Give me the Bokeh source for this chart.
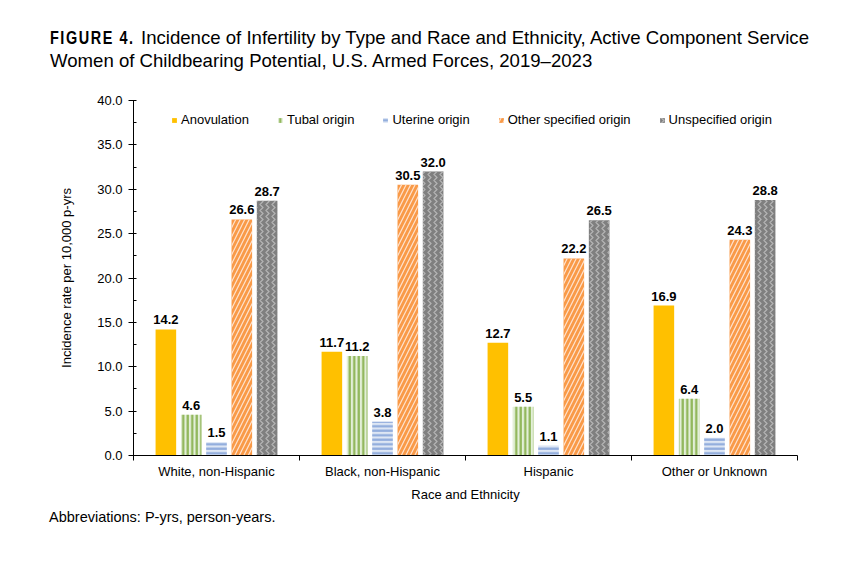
from bokeh.plotting import figure
from bokeh.layouts import column
from bokeh.models import (ColumnDataSource, FixedTicker, Legend, LegendItem, Div,
                          NumeralTickFormatter, Range1d, LabelSet)
from bokeh.embed import file_html
from bokeh.resources import INLINE
from bokeh.core.properties import value

categories = ["White, non-Hispanic", "Black, non-Hispanic", "Hispanic", "Other or Unknown"]
series_names = ["Anovulation", "Tubal origin", "Uterine origin", "Other specified origin", "Unspecified origin"]
anovulation = [14.2, 11.7, 12.7, 16.9]
tubal = [4.6, 11.2, 5.5, 6.4]
uterine = [1.5, 3.8, 1.1, 2.0]
other_specified = [26.6, 30.5, 22.2, 24.3]
unspecified = [28.7, 32.0, 26.5, 28.8]
series_values = [anovulation, tubal, uterine, other_specified, unspecified]
y_ticks = [0, 5, 10, 15, 20, 25, 30, 35, 40]

title_prefix = "FIGURE 4."
title_line1 = "Incidence of Infertility by Type and Race and Ethnicity, Active Component Service"
title_line2 = "Women of Childbearing Potential, U.S. Armed Forces, 2019\u20132023"
footnote = "Abbreviations: P-yrs, person-years."

SANS = "Liberation Sans"

styles = [
    dict(fill_color="#FFC000", hatch_pattern=None),
    dict(fill_color="#E3EFD8", hatch_pattern="|", hatch_color="#8DB455", hatch_scale=4.5, hatch_weight=2.2),
    dict(fill_color="#DDE6F4", hatch_pattern="-", hatch_color="#8EAADB", hatch_scale=4.5, hatch_weight=2.2),
    dict(fill_color="#F99A48", hatch_pattern="/", hatch_color="#FFE3CF", hatch_scale=9, hatch_weight=1.2),
    dict(fill_color="#7F7F7F", hatch_pattern=">", hatch_color="#B5B5B5", hatch_scale=6, hatch_weight=1.2),
]

title_html = (
    '<div style="position:relative;width:850px;height:90px;color:#000;">'
    '<span style="position:absolute;left:50px;top:29px;white-space:nowrap;'
    'font-family:\'Liberation Sans\',Arial;font-weight:bold;font-size:18.5px;line-height:18.5px;'
    'letter-spacing:2px;transform:scaleX(0.78);transform-origin:left top;">' + title_prefix + '</span>'
    '<span style="position:absolute;left:141px;top:29px;white-space:nowrap;'
    'font-family:\'Liberation Sans\',Arial;font-size:18.6px;line-height:18.6px;">' + title_line1 + '</span>'
    '<span style="position:absolute;left:50px;top:52px;white-space:nowrap;'
    'font-family:\'Liberation Sans\',Arial;font-size:18.6px;line-height:18.6px;">' + title_line2 + '</span>'
    '</div>'
)
title_div = Div(text=title_html, width=850, height=90, margin=(0, 0, 0, 0))

foot_html = (
    '<div style="position:relative;width:850px;height:30px;color:#000;">'
    '<span style="position:absolute;left:49px;top:0px;white-space:nowrap;'
    'font-family:\'Liberation Sans\',Arial;font-size:14.5px;line-height:14.5px;">' + footnote + '</span>'
    '</div>'
)
foot_div = Div(text=foot_html, width=850, height=30, margin=(0, 0, 0, 0))

p = figure(width=850, height=420, output_backend="svg", toolbar_location=None,
           x_range=Range1d(0, 4), y_range=Range1d(0, 40),
           min_border_left=133, min_border_right=53, min_border_top=10, min_border_bottom=55,
           margin=(0, 0, 0, 0))
p.outline_line_color = None
p.xgrid.visible = False
p.ygrid.visible = False

offset = 0.1525
bw = 0.124
items = []
for k, (name, vals) in enumerate(zip(series_names, series_values)):
    xs = [i + 0.5 + (k - 2) * offset for i in range(len(categories))]
    src = ColumnDataSource(dict(x=xs, top=vals, lab=[f"{v:.1f}" for v in vals]))
    st = styles[k]
    kw = dict(fill_color=st["fill_color"], line_color=None)
    if st["hatch_pattern"]:
        kw.update(hatch_pattern=st["hatch_pattern"], hatch_color=st["hatch_color"],
                  hatch_scale=st["hatch_scale"], hatch_weight=st["hatch_weight"])
    r = p.vbar(x="x", top="top", width=bw, source=src, **kw)
    items.append(LegendItem(label=name, renderers=[r]))
    ls = LabelSet(x="x", y="top", text="lab", source=src, text_align="center",
                  text_baseline="alphabetic", y_offset=5, text_font=value(SANS),
                  text_font_style="bold", text_font_size="13px", text_color="#000000")
    p.add_layout(ls)

legend = Legend(items=items, orientation="horizontal", location=(38, 328),
                glyph_width=6, glyph_height=6, label_standoff=4, spacing=28,
                padding=0, margin=0, border_line_color=None, background_fill_alpha=0,
                label_text_font=SANS, label_text_font_size="13px", label_height=13,
                label_text_color="#000000")
p.add_layout(legend, "center")

# y axis
p.yaxis.ticker = FixedTicker(ticks=y_ticks, minor_ticks=[2.5 + 5 * i for i in range(8)])
p.yaxis.formatter = NumeralTickFormatter(format="0.0")
p.yaxis.major_tick_in = 3
p.yaxis.major_tick_out = 5
p.yaxis.minor_tick_in = 3
p.yaxis.minor_tick_out = 0
p.yaxis.axis_line_color = "#000000"
p.yaxis.major_tick_line_color = "#000000"
p.yaxis.minor_tick_line_color = "#000000"
p.yaxis.major_label_text_font = SANS
p.yaxis.major_label_text_font_size = "13px"
p.yaxis.major_label_text_color = "#000000"
p.yaxis.major_label_standoff = 6
p.yaxis.axis_label = "Incidence rate per 10,000 p-yrs"
p.yaxis.axis_label_text_font = SANS
p.yaxis.axis_label_text_font_size = "13px"
p.yaxis.axis_label_text_font_style = "normal"
p.yaxis.axis_label_text_color = "#000000"
p.yaxis.axis_label_standoff = 20

# x axis
p.xaxis.ticker = FixedTicker(ticks=[i + 0.5 for i in range(len(categories))],
                             minor_ticks=list(range(len(categories) + 1)))
p.xaxis.major_label_overrides = {i + 0.5: c for i, c in enumerate(categories)}
p.xaxis.major_tick_in = 0
p.xaxis.major_tick_out = 0
p.xaxis.minor_tick_in = 0
p.xaxis.minor_tick_out = 5
p.xaxis.axis_line_color = "#000000"
p.xaxis.minor_tick_line_color = "#000000"
p.xaxis.major_label_text_font = SANS
p.xaxis.major_label_text_font_size = "13px"
p.xaxis.major_label_text_color = "#000000"
p.xaxis.major_label_standoff = 3
p.xaxis.axis_label = "Race and Ethnicity"
p.xaxis.axis_label_text_font = SANS
p.xaxis.axis_label_text_font_size = "13px"
p.xaxis.axis_label_text_font_style = "normal"
p.xaxis.axis_label_text_color = "#000000"
p.xaxis.axis_label_standoff = 5

layout = column(title_div, p, foot_div, spacing=0, margin=(0, 0, 0, 0))

open("out.html", "w").write(file_html(layout, INLINE))
